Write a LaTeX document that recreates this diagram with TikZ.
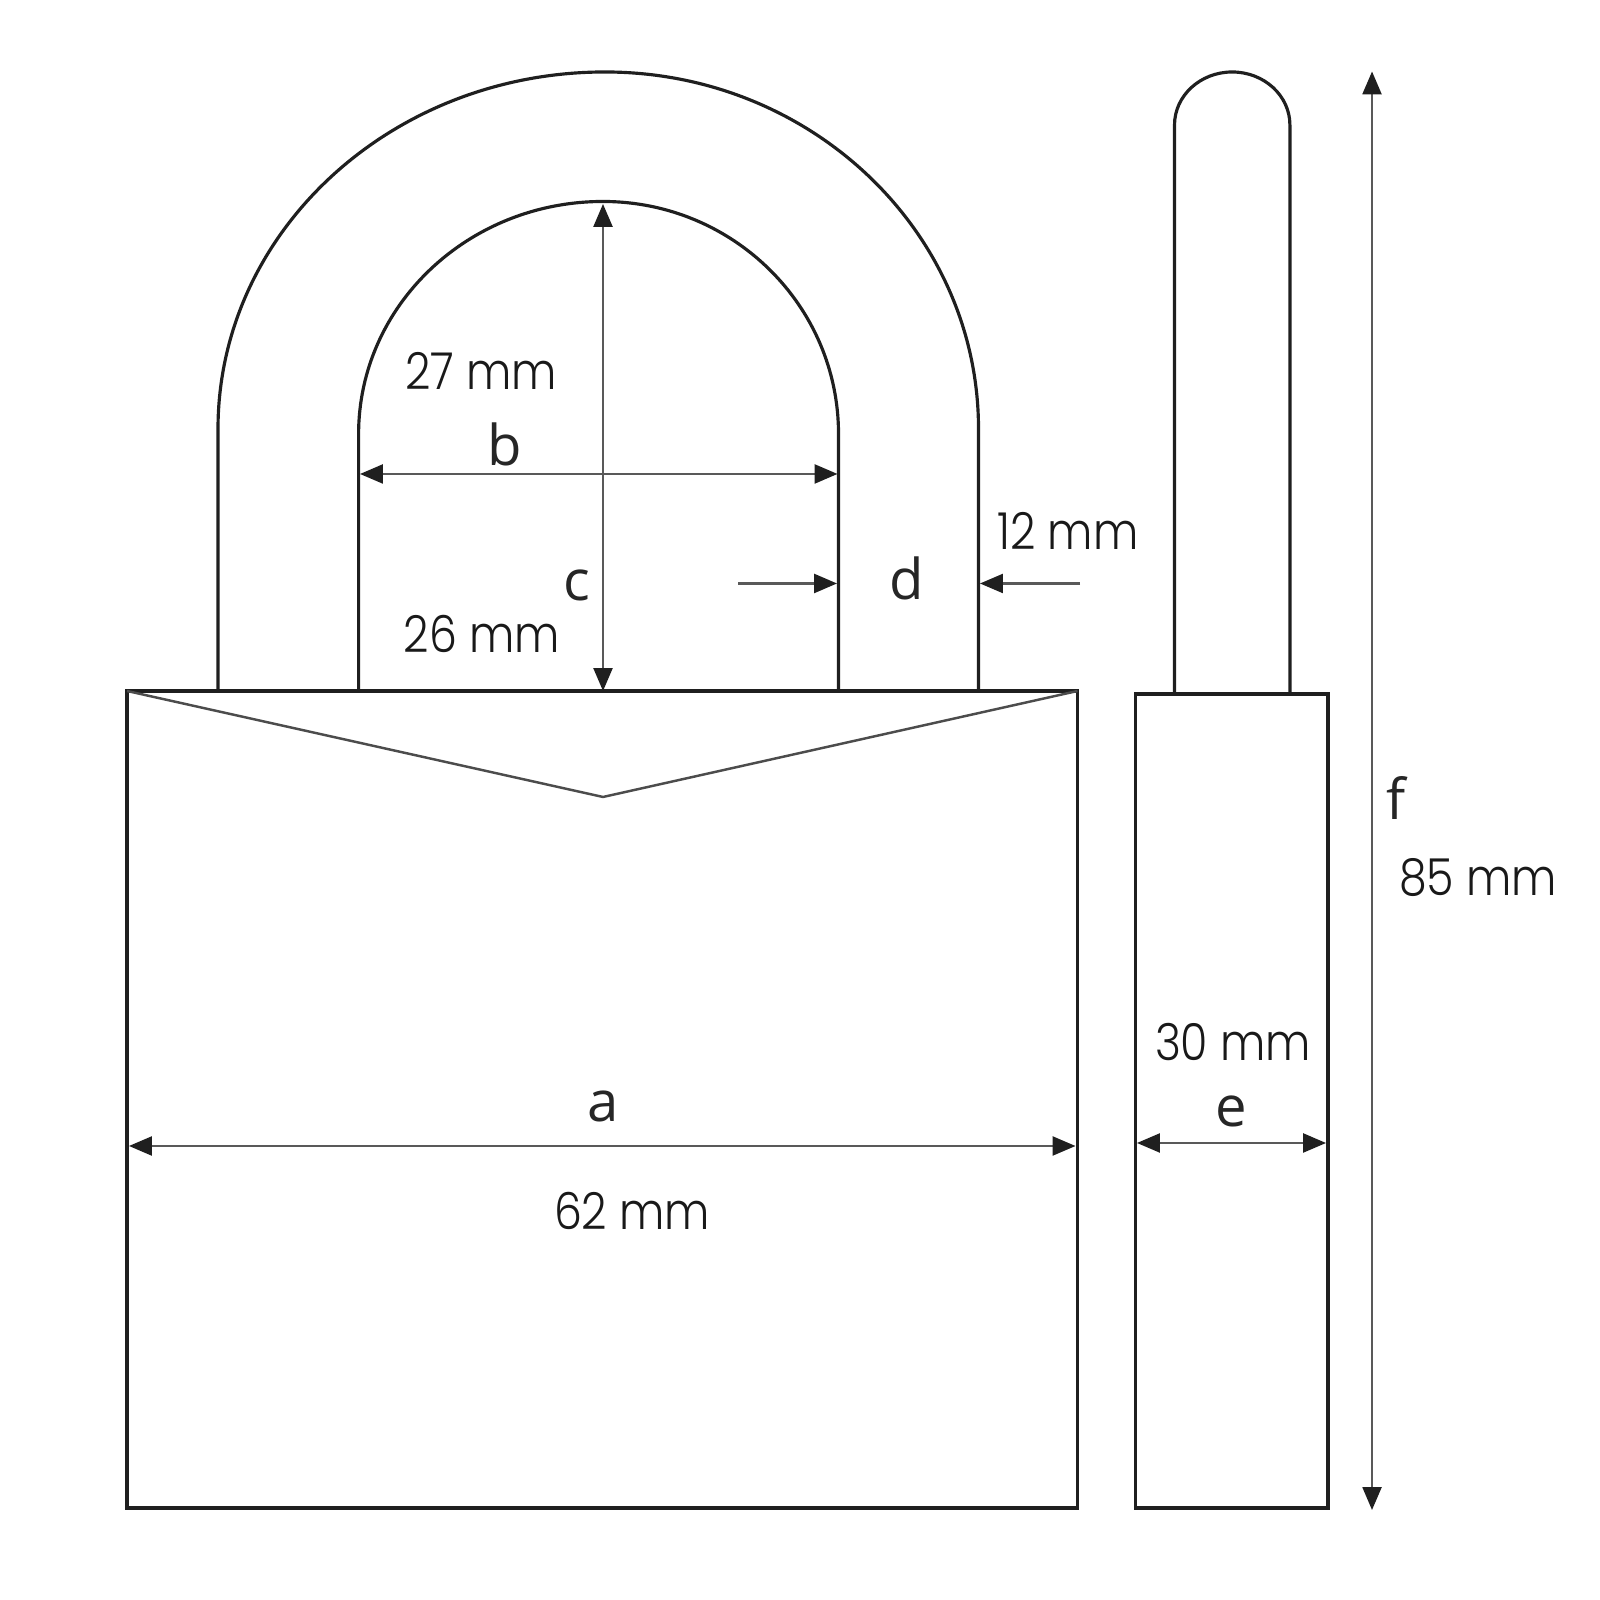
\documentclass[tikz,border=0pt]{standalone}
\usepackage{fontspec}
\usetikzlibrary{arrows.meta}
\newfontfamily\sizefont[FakeStretch=0.87]{Poppins Light}
\newfontfamily\letterfont{Open Sans}
\tikzset{
  outline/.style={line width=0.9pt, color=black!88},
  thinline/.style={line width=0.7pt, color=black!70},
  dimline/.style={line width=0.6pt, color=black!65, {Triangle[length=6.5pt,width=5.4pt,black!88]}-{Triangle[length=6.5pt,width=5.4pt,black!88]}},
  halfline/.style={line width=0.6pt, color=black!65, -{Triangle[length=6.5pt,width=5.4pt,black!88]}},
  sizelabel/.style={inner sep=0pt, font=\sizefont\fontsize{14.5}{18}\selectfont, color=black!90},
  letterlabel/.style={inner sep=0pt, font=\letterfont\fontsize{16}{20}\selectfont, color=black!85}
}
\begin{document}
\begin{tikzpicture}

\useasboundingbox (0,0) rectangle (16,16);

\draw[outline] (1.27,0.92) rectangle (10.775,9.09);
\draw[thinline] (1.27,9.09)--(6.03,8.03)--(10.775,9.09);

\draw[outline] (2.18,9.09)--(2.18,11.71) arc[start angle=180, end angle=90, x radius=3.87, y radius=3.57] arc[start angle=90, end angle=0, x radius=3.735, y radius=3.57]--(9.785,9.09);
\draw[outline] (3.586,9.09)--(3.586,11.66) arc[start angle=180, end angle=90, x radius=2.444, y radius=2.325] arc[start angle=90, end angle=0, x radius=2.355, y radius=2.325]--(8.385,9.09);

\draw[outline] (11.355,0.92) rectangle (13.28,9.06);
\draw[outline] (11.745,9.06)--(11.745,14.75) arc[start angle=180, end angle=0, x radius=0.577, y radius=0.53]--(12.90,9.06);

\coordinate (aleft) at (1.29,4.54);
\coordinate (aright) at (10.755,4.54);
\coordinate (bleft) at (3.60,11.26);
\coordinate (bright) at (8.375,11.26);
\coordinate (ctop) at (6.03,13.96);
\coordinate (cbottom) at (6.03,9.09);
\coordinate (dinner) at (8.37,10.165);
\coordinate (dinnerfree) at (7.38,10.165);
\coordinate (douter) at (9.80,10.165);
\coordinate (douterfree) at (10.80,10.165);
\coordinate (eleft) at (11.37,4.57);
\coordinate (eright) at (13.26,4.57);
\coordinate (ftop) at (13.72,15.285);
\coordinate (fbottom) at (13.72,0.90);

\draw[dimline] (aleft)--(aright);
\draw[dimline] (bleft)--(bright);
\draw[dimline] (ctop)--(cbottom);
\draw[halfline] (dinnerfree)--(dinner);
\draw[halfline] (douterfree)--(douter);
\draw[dimline] (eleft)--(eright);
\draw[dimline] (ftop)--(fbottom);

\node[letterlabel] (alabel) at (6.03,4.94) {a};
\node[letterlabel] (blabel) at (5.05,11.56) {b};
\node[letterlabel] (clabel) at (5.77,10.15) {c};
\node[letterlabel] (dlabel) at (9.07,10.22) {d};
\node[letterlabel] (elabel) at (12.31,4.89) {e};
\node[letterlabel] (flabel) at (13.96,8.02) {f};

\node[sizelabel] (sizea) at (6.32,3.89) {62 mm};
\node[sizelabel] (sizeb) at (4.81,12.29) {27 mm};
\node[sizelabel] (sizec) at (4.82,9.66) {26 mm};
\node[sizelabel] (sized) at (10.68,10.69) {12 mm};
\node[sizelabel] (sizee) at (12.33,5.58) {30 mm};
\node[sizelabel] (sizef) at (14.78,7.22) {85 mm};
\end{tikzpicture}
\end{document}
